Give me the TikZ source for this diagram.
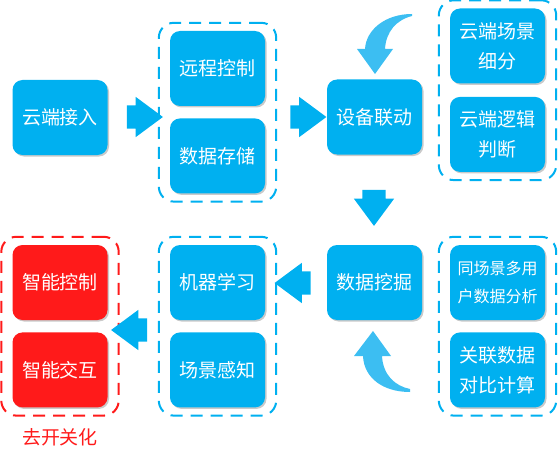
\documentclass[tikz,border=0pt]{standalone}
\usepackage{fontspec}
\usepackage{tikz}
\usetikzlibrary{positioning, fit, calc, shapes.arrows, shadows}
\newfontfamily\cjk{Noto Sans CJK SC}
\definecolor{flowblue}{RGB}{0, 176, 240}
\definecolor{flowlight}{RGB}{60, 190, 242}
\definecolor{flowred}{RGB}{255, 26, 26}

\tikzset{
    stagebox/.style={fill=flowblue, text=white, rounded corners=10pt, minimum width=95pt, minimum height=75pt,
        inner sep=0pt, align=center, font=\cjk\fontsize{19}{30}\selectfont,
        drop shadow={shadow xshift=1.5pt, shadow yshift=-1.5pt, opacity=0.35, fill=black!60}},
    smalltext/.style={font=\cjk\fontsize{16}{28}\selectfont},
    redbox/.style={stagebox, fill=flowred},
    groupbox/.style={draw=flowblue, line width=2pt, dash pattern=on 12pt off 8pt, rounded corners=15pt,
        inner xsep=11pt, inner ysep=8pt},
    blockarr/.style={single arrow, fill=flowblue, minimum height=36pt, inner xsep=0pt, inner ysep=11.5pt,
        single arrow head extend=8.5pt, single arrow tip angle=73},
    bentarr/.style={fill=flowlight}
}

\begin{document}
\begin{tikzpicture}[x=1pt, y=-1pt]
    \useasboundingbox (0,0) rectangle (560,460);
    \node[stagebox] (in) at (60,117.5) {云端接入};
    \node[stagebox] (rc) at (217.5,68.5) {远程控制};
    \node[stagebox, below=12pt of rc] (ds) {数据存储};
    \node[stagebox] (sd) at (374.5,117) {设备联动};
    \node[stagebox] (cs) at (497.5,46) {云端场景\\细分};
    \node[stagebox, below=13pt of cs] (cl) {云端逻辑\\判断};
    \node[stagebox] (dm) at (374.5,282.5) {数据挖掘};
    \node[stagebox, smalltext] (ua) at (497.5,282.5) {同场景多用\\户数据分析};
    \node[stagebox, below=12pt of ua] (cc) {关联数据\\对比计算};
    \node[stagebox] (ml) at (217.5,282.5) {机器学习};
    \node[stagebox, below=12pt of ml] (sp) {场景感知};
    \node[redbox] (ic) at (60,282.5) {智能控制};
    \node[redbox, below=12pt of ic] (ii) {智能交互};
    \node[text=flowred, font=\cjk\fontsize{19}{22}\selectfont] (rl) at (60,437) {去开关化};

    \node[groupbox, fit=(rc)(ds)] (g1) {};
    \node[groupbox, fit=(cs)(cl)] (g2) {};
    \node[groupbox, fit=(ml)(sp)] (g3) {};
    \node[groupbox, fit=(ua)(cc)] (g4) {};
    \node[groupbox, draw=flowred, fit=(ic)(ii)] (gr) {};

    \node[blockarr] (a1) at (137,117) {};
    \node[blockarr] (a2) at (300.5,117) {};
    \node[blockarr, rotate=-90] (a3) at (374,200) {};
    \node[blockarr, rotate=180] (a4) at (300.5,283) {};
    \node[blockarr, rotate=180] (a5) at (137,330) {};

    \fill[bentarr] (412,14) .. controls (385,14) and (366,30) .. (365,49) -- (357,49)
        -- (375,74) -- (393,49) -- (385,49) .. controls (386,32) and (396,20) .. (412,16) -- cycle;
    \fill[bentarr] (373,331) -- (391,356) -- (382,356) .. controls (383,375) and (395,386) .. (410,389)
        -- (410,392) .. controls (383,392) and (364,378) .. (363,356) -- (354,356) -- cycle;
\end{tikzpicture}
\end{document}
